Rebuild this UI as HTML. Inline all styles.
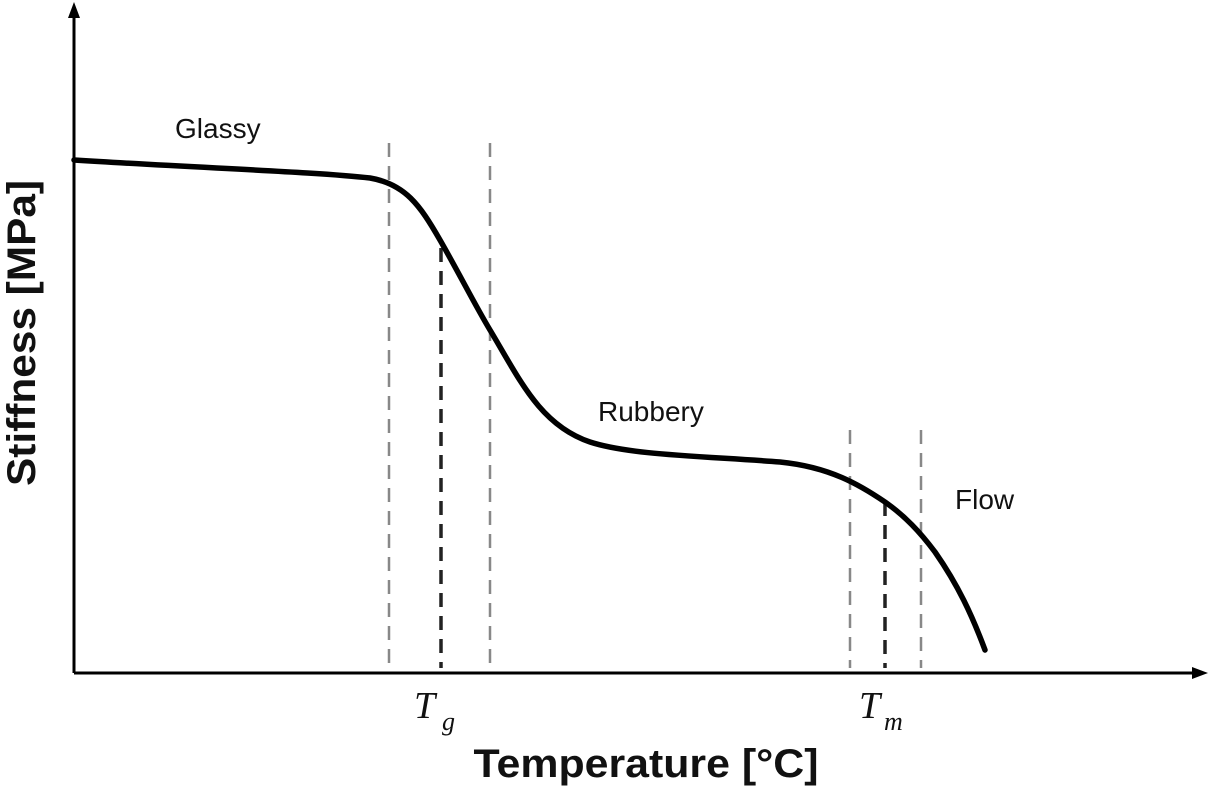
<!DOCTYPE html>
<html><head><style>body{margin:0;background:#fff}</style></head><body>
<svg width="1213" height="786" xmlns="http://www.w3.org/2000/svg">
<rect width="1213" height="786" fill="#fff"/>
<line x1="74" y1="673" x2="1198" y2="673" stroke="#000" stroke-width="3"/>
<line x1="74" y1="673" x2="74" y2="10" stroke="#000" stroke-width="3"/>
<polygon points="74,2 68,18 80,18" fill="#000"/>
<polygon points="1208,673 1192,667 1192,679" fill="#000"/>
<g stroke-dasharray="14,9" stroke-width="2.5">
<line x1="389" y1="143" x2="389" y2="668" stroke="#888"/>
<line x1="490" y1="143" x2="490" y2="668" stroke="#888"/>
<line x1="441" y1="248" x2="441" y2="668" stroke="#222" stroke-width="3.5"/>
<line x1="850" y1="430" x2="850" y2="668" stroke="#888"/>
<line x1="921" y1="430" x2="921" y2="668" stroke="#888"/>
<line x1="885" y1="502" x2="885" y2="668" stroke="#222" stroke-width="3.5"/>
</g>
<path d="M74,160 C200,168 320,172 370,178 C405,184 420,205 440,240 C460,275 475,305 490,330 C520,380 540,425 590,442 C630,455 700,456 780,462 C830,467 860,485 885,502 C905,516 920,532 935,552 C958,585 972,615 985,650" fill="none" stroke="#000" stroke-width="5.5" stroke-linecap="round"/>
<g font-family="Liberation Sans, sans-serif" font-size="28" fill="#111">
<text x="175" y="138">Glassy</text>
<text x="598" y="421">Rubbery</text>
<text x="955" y="509">Flow</text>
</g>
<g font-family="Liberation Serif, serif" font-style="italic" fill="#111">
<text x="414" y="718" font-size="38">T</text><text x="442" y="730" font-size="26">g</text>
<text x="859" y="718" font-size="38">T</text><text x="884" y="730" font-size="26">m</text>
</g>
<text x="646" y="777" text-anchor="middle" font-family="Liberation Sans, sans-serif" font-weight="bold" font-size="40" fill="#111" textLength="345" lengthAdjust="spacingAndGlyphs">Temperature [°C]</text>
<text transform="translate(35,333) rotate(-90)" text-anchor="middle" font-family="Liberation Sans, sans-serif" font-weight="bold" font-size="40" fill="#111" textLength="306" lengthAdjust="spacingAndGlyphs">Stiffness [MPa]</text>
</svg>
</body></html>
